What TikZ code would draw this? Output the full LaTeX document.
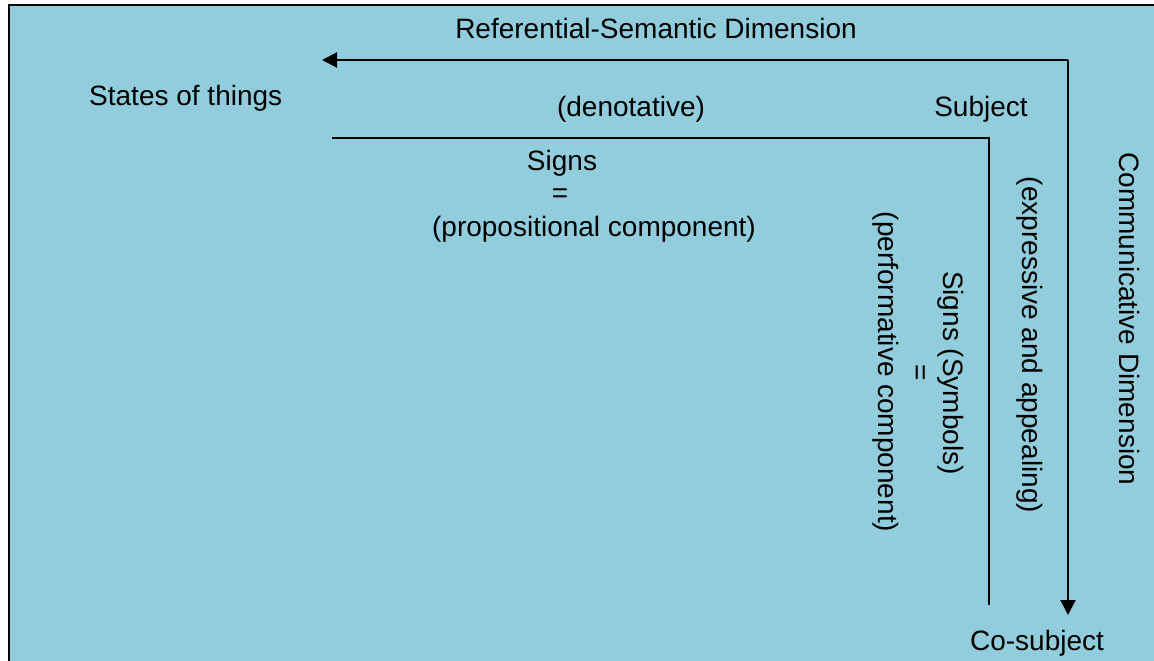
\documentclass[tikz,border=0pt]{standalone}
\usepackage{fontspec}
\setmainfont{Liberation Sans}
\usetikzlibrary{arrows.meta}
\definecolor{panelblue}{RGB}{146,205,221}
\tikzset{
  lbl/.style={font=\fontsize{28}{33}\selectfont, text=black, inner sep=0pt, anchor=base},
  vlbl/.style={lbl, rotate=-90},
  axis/.style={line width=2pt, draw=black},
  tip/.style={-{Triangle[length=15pt,width=15pt]}}
}
\begin{document}
\begin{tikzpicture}[x=1pt,y=-1pt]
  \useasboundingbox (0,0) rectangle (1154,661);
  % panel background and its frame
  \fill[white] (0,0) rectangle (1154,661);
  \fill[panelblue] (10,6) rectangle (1154,661);
  \draw[line width=2.5pt] (9,661) -- (9,5) -- (1154,5);

  % corner points of the two axes
  \coordinate (outercorner) at (1068,60);
  \coordinate (outerleft) at (322,60);
  \coordinate (outerbottom) at (1068,615);
  \coordinate (innerleft) at (332,138);
  \coordinate (innercorner) at (989,138);
  \coordinate (innerbottom) at (989,605);

  % outer axis: referential-semantic and communicative dimensions
  \draw[axis, tip] (outercorner) -- (outerleft);
  \draw[axis, tip] (outercorner) -- (outerbottom);
  % inner corner line
  \draw[axis, line join=miter] (innerleft) -- (innercorner) -- (innerbottom);

  % horizontal labels
  \node[lbl] (refdim) at (656,39) {Referential-Semantic Dimension};
  \node[lbl, anchor=base west] (states) at (89,105) {States of things};
  \node[lbl] (denot) at (631,116) {(denotative)};
  \node[lbl] (subject) at (981,116) {Subject};
  \node[lbl] (signs) at (562,170) {Signs};
  \node[lbl] (eqa) at (560,202) {=};
  \node[lbl] (propos) at (594,236) {(propositional component)};
  \node[lbl] (cosubj) at (1037,650) {Co-subject};

  % vertical labels
  \node[vlbl] (commdim) at (1119,319) {Communicative Dimension};
  \node[vlbl] (express) at (1022,345) {(expressive and appealing)};
  \node[vlbl] (symbols) at (943,373) {Signs (Symbols)};
  \node[vlbl] (eqb) at (911,373) {=};
  \node[vlbl] (perform) at (878,372) {(performative component)};
\end{tikzpicture}
\end{document}
